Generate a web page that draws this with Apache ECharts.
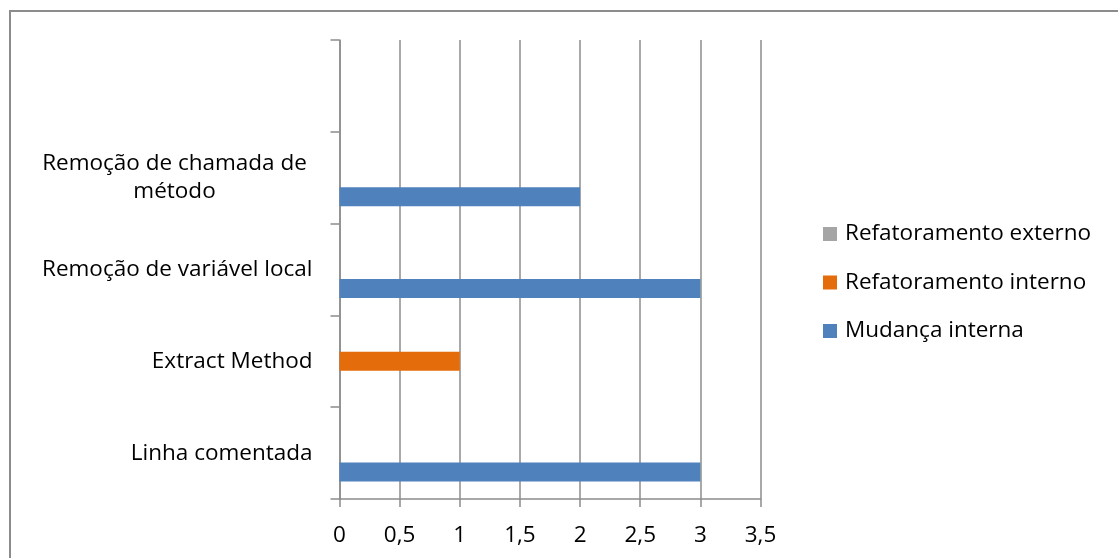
<!DOCTYPE html>
<html>
<head>
<meta charset="utf-8">
<script src="https://cdn.jsdelivr.net/npm/echarts@6/dist/echarts.min.js"></script>
<style>html,body{margin:0;padding:0;background:#fff;}#c{width:1118px;height:558px;}</style>
</head>
<body>
<div id="c"></div>
<script>
// Categories from bottom to top (last one is an empty slot)
const categories = ['Linha comentada', 'Extract Method', 'Remoção de variável local', 'Remoção de chamada de método', ''];
const mudancaInterna = [3, 0, 3, 2, 0];
const refatoramentoInterno = [0, 1, 0, 0, 0];
const refatoramentoExterno = [0, 0, 0, 0, 0];
const xTicks = [0, 0.5, 1, 1.5, 2, 2.5, 3, 3.5];
const legendNames = ['Refatoramento externo', 'Refatoramento interno', 'Mudança interna'];

const FONT = 'Open Sans';
const FS = 22.5;

function wrapLabel(v) {
  if (v.length <= 26) return v;
  const words = v.split(' ');
  const lines = [];
  let cur = '';
  words.forEach(w => {
    const t = cur ? cur + ' ' + w : w;
    if (t.length > 22 && cur) { lines.push(cur); cur = w; } else { cur = t; }
  });
  if (cur) lines.push(cur);
  return lines.map(l => '{c|' + l + '}').join('\n');
}

const chart = echarts.init(document.getElementById('c'), null, {renderer: 'canvas'});
const axisColor = '#8c8c8c';
const option = {
  animation: false,
  backgroundColor: '#fff',
  textStyle: {fontFamily: FONT},
  grid: {left: 339.5, right: 357.5, top: 40, bottom: 59, containLabel: false},
  legend: {
    orient: 'vertical',
    left: 818, top: 217,
    itemWidth: 14, itemHeight: 14,
    itemGap: 24.5,
    icon: 'rect',
    data: legendNames,
    textStyle: {fontFamily: FONT, fontSize: FS, color: '#000', lineHeight: 24, padding: [0, 0, 0, 3]}
  },
  xAxis: {
    type: 'value',
    min: 0, max: 3.5, interval: 0.5,
    axisLine: {show: true, lineStyle: {color: axisColor, width: 1.5}},
    axisTick: {show: true, length: 8, lineStyle: {color: axisColor, width: 1.5}},
    splitLine: {show: true, lineStyle: {color: axisColor, width: 1.5}},
    axisLabel: {
      margin: 25, color: '#000', fontFamily: FONT, fontSize: FS,
      formatter: v => String(v).replace('.', ',')
    }
  },
  yAxis: {
    type: 'category',
    data: categories,
    axisLine: {show: true, lineStyle: {color: axisColor, width: 1.5}},
    axisTick: {show: true, length: 9, lineStyle: {color: axisColor, width: 1.5}},
    splitLine: {show: false},
    axisLabel: {
      margin: 27, color: '#000', fontFamily: FONT, fontSize: FS,
      formatter: wrapLabel,
      rich: {c: {width: 276, align: 'center', fontFamily: FONT, fontSize: FS, lineHeight: 28, color: '#000'}}
    }
  },
  series: [
    {name: 'Refatoramento externo', type: 'bar', data: refatoramentoExterno, barWidth: 19, barGap: '0%', itemStyle: {color: '#A5A5A5'}},
    {name: 'Refatoramento interno', type: 'bar', data: refatoramentoInterno, barWidth: 19, barGap: '0%', itemStyle: {color: '#E46C0A'}},
    {name: 'Mudança interna', type: 'bar', data: mudancaInterna, barWidth: 19, barGap: '0%', itemStyle: {color: '#4F81BD'}}
  ],
  graphic: [
    {type: 'line', shape: {x1: 10, y1: 11, x2: 1118, y2: 11}, style: {stroke: '#8c8c8c', lineWidth: 2}},
    {type: 'line', shape: {x1: 10, y1: 10, x2: 10, y2: 558}, style: {stroke: '#8c8c8c', lineWidth: 2}}
  ]
};
chart.setOption(option);
</script>
</body>
</html>
